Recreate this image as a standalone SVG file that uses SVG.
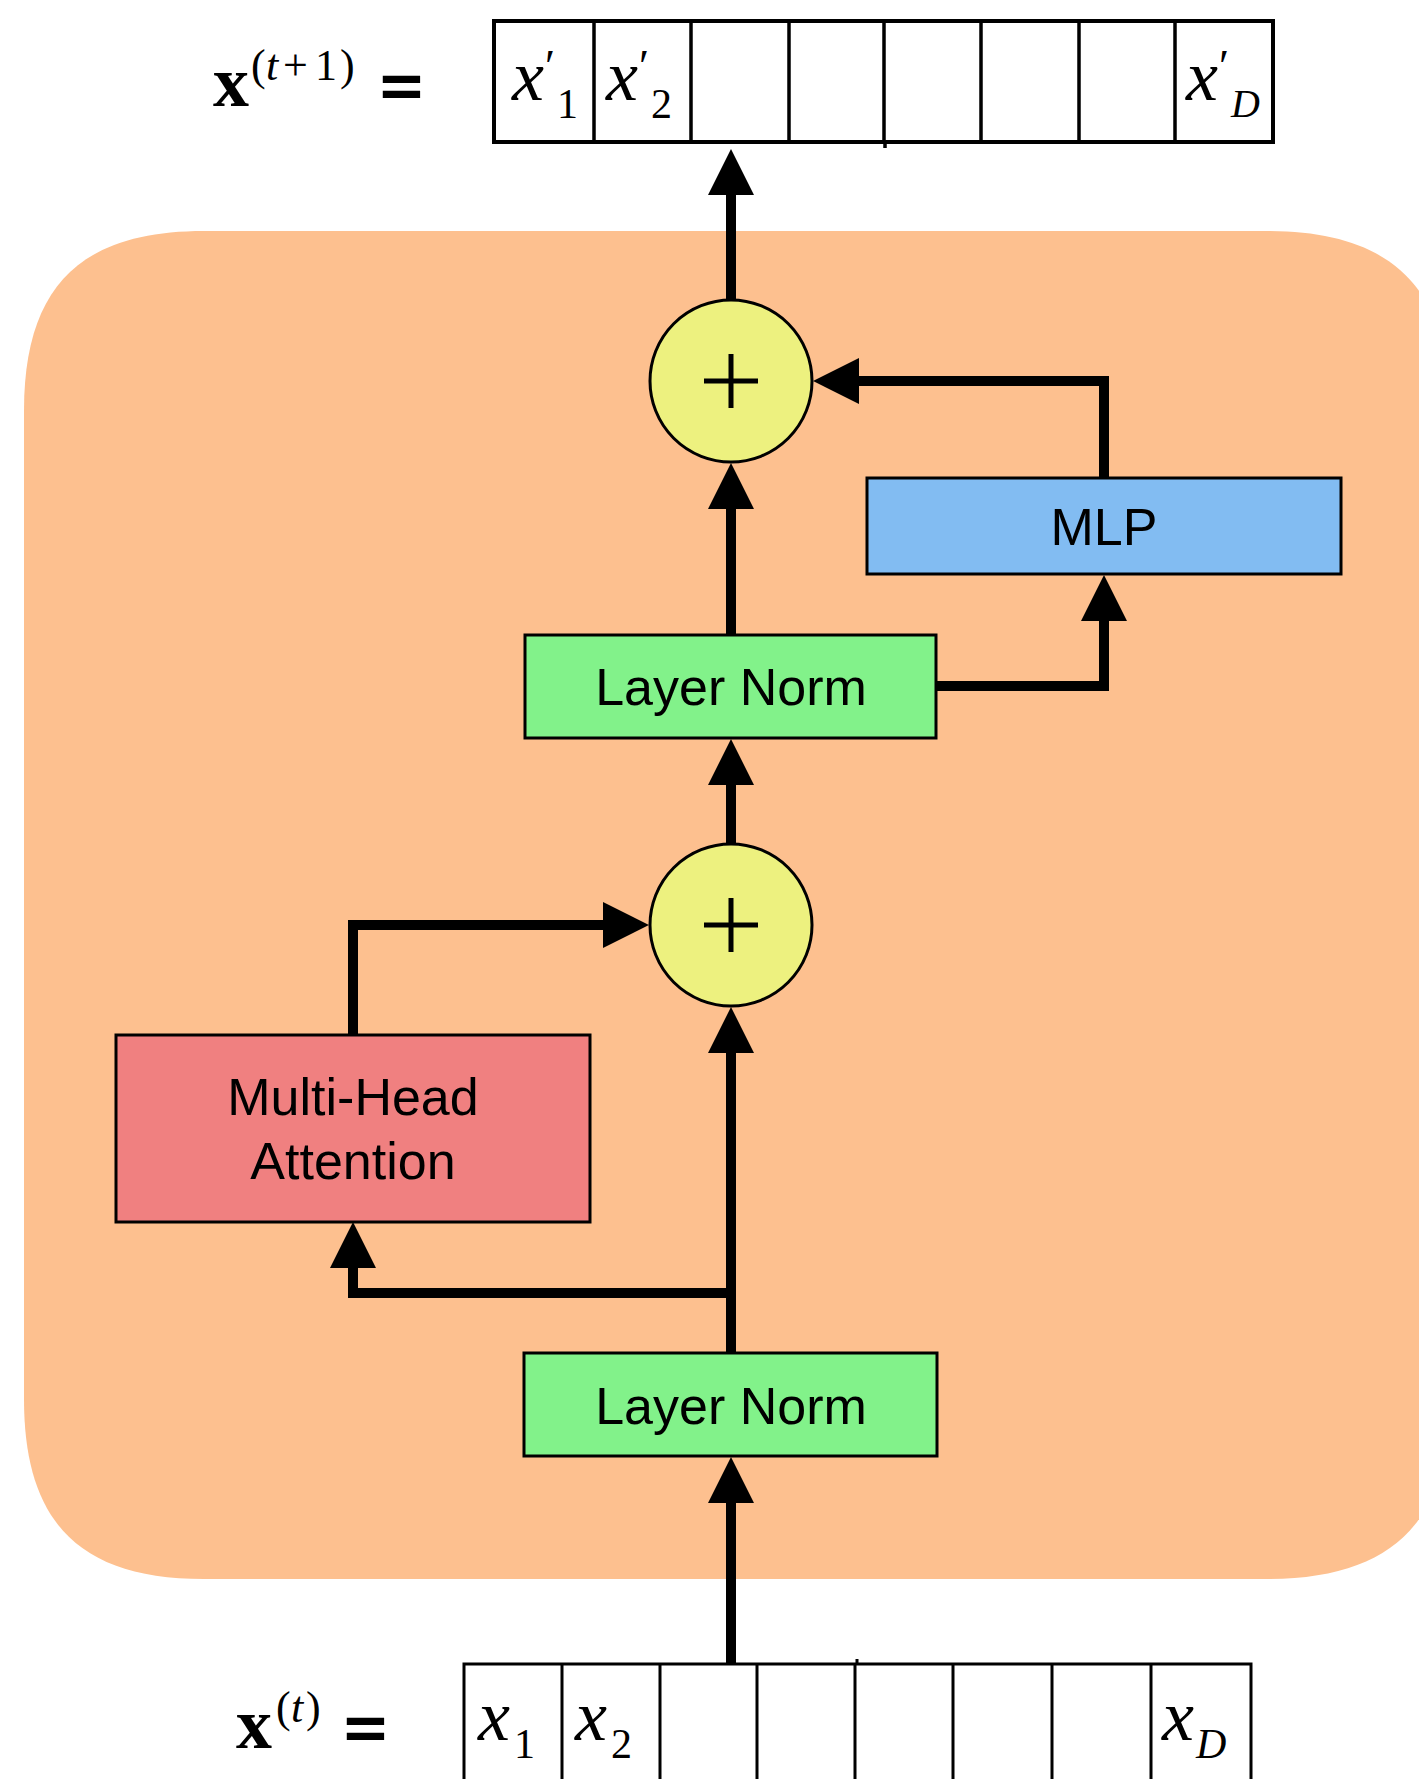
<svg xmlns="http://www.w3.org/2000/svg" width="1419" height="1779" viewBox="0 0 1419 1779">
  <style>
    .box { stroke: #000; stroke-width: 3; }
    .lbl { font-family: "Liberation Sans", Arial, sans-serif; font-size: 52px; fill: #000; text-anchor: middle; }
    .conn { fill: none; stroke: #000; stroke-width: 10; stroke-linejoin: miter; stroke-linecap: butt; }
    .cell { fill: none; stroke: #000; }
    .m { font-family: "Liberation Serif", "Times New Roman", serif; font-style: normal; fill: #000; }
    .mi { font-family: "Liberation Serif", "Times New Roman", serif; font-style: italic; fill: #000; }
    .eq { font-family: "Liberation Serif", "Times New Roman", serif; font-weight: bold; fill: #000; stroke: #000; stroke-width: 2; }
  </style>
  <defs>
    <marker id="ah" markerUnits="userSpaceOnUse" markerWidth="46" markerHeight="46" viewBox="0 0 44 44" refX="1" refY="22" orient="auto">
      <path d="M0,0 L44,22 L0,44 z" fill="#000"/>
    </marker>
  </defs>
  <rect width="1419" height="1779" fill="#fff"/>

  <g id="block">
    <path d="M204,231 H1267 C1391,231 1450,287 1450,411 V1399 C1450,1523 1391,1579 1267,1579 H204 C80,1579 24,1523 24,1399 V411 C24,287 80,231 204,231 Z" fill="#FDC08F"/>
  </g>

  <g id="output-vector">
    <text class="m" x="213" y="106" font-size="72" font-weight="bold">x<tspan font-weight="normal" font-size="44" x="251" y="80">(</tspan><tspan class="mi" font-weight="normal" font-size="44" x="266" y="80">t</tspan><tspan font-weight="normal" font-size="44" x="283" y="80">+</tspan><tspan font-weight="normal" font-size="44" x="315" y="80">1</tspan><tspan font-weight="normal" font-size="44" x="340" y="80">)</tspan></text>
    <text class="eq" x="380" y="112" font-size="76">=</text>
    <rect class="cell" x="494" y="21" width="779" height="121" stroke-width="4"/>
    <path class="cell" stroke-width="3.5" d="M594,21V142 M691,21V142 M789,21V142 M884,21V142 M981,21V142 M1079,21V142 M1175,21V142 M885,142V148"/>
    <text class="mi" x="512" y="100" font-size="72">x<tspan class="m" x="545" y="82" font-size="46">′</tspan><tspan class="m" x="557" y="118" font-size="42">1</tspan></text>
    <text class="mi" x="606" y="100" font-size="72">x<tspan class="m" x="639" y="82" font-size="46">′</tspan><tspan class="m" x="651" y="118" font-size="42">2</tspan></text>
    <text class="mi" x="1186" y="100" font-size="72">x<tspan class="m" x="1219" y="82" font-size="46">′</tspan><tspan class="mi" x="1231" y="117" font-size="40">D</tspan></text>
  </g>

  <g id="input-vector">
    <text class="m" x="236" y="1748" font-size="72" font-weight="bold">x<tspan font-weight="normal" font-size="44" x="276" y="1722">(</tspan><tspan class="mi" font-weight="normal" font-size="44" x="291" y="1722">t</tspan><tspan font-weight="normal" font-size="44" x="306" y="1722">)</tspan></text>
    <text class="eq" x="344" y="1754" font-size="76">=</text>
    <path class="cell" stroke-width="3" d="M464,1800V1664H1251V1800 M562,1664V1779 M660,1664V1779 M757,1664V1779 M855,1664V1779 M953,1664V1779 M1052,1664V1779 M1151,1664V1779 M857,1659V1664"/>
    <text class="mi" x="478" y="1740" font-size="72">x<tspan class="m" x="514" y="1758" font-size="42">1</tspan></text>
    <text class="mi" x="575" y="1740" font-size="72">x<tspan class="m" x="611" y="1758" font-size="42">2</tspan></text>
    <text class="mi" x="1162" y="1740" font-size="72">x<tspan class="mi" x="1196" y="1758" font-size="42">D</tspan></text>
  </g>

  <g id="connectors">
    <path class="conn" d="M731,1664 V1502" marker-end="url(#ah)"/>
    <path class="conn" d="M731,1353 V1052" marker-end="url(#ah)"/>
    <path class="conn" d="M731,1293 H353 V1267" marker-end="url(#ah)"/>
    <path class="conn" d="M353,1035 V925 H604" marker-end="url(#ah)"/>
    <path class="conn" d="M731,844 V784" marker-end="url(#ah)"/>
    <path class="conn" d="M731,635 V508" marker-end="url(#ah)"/>
    <path class="conn" d="M936,686 H1104 V620" marker-end="url(#ah)"/>
    <path class="conn" d="M1104,478 V381 H858" marker-end="url(#ah)"/>
    <path class="conn" d="M731,300 V194" marker-end="url(#ah)"/>
  </g>

  <g id="layernorm-bottom">
    <rect class="box" x="524" y="1353" width="413" height="103" fill="#82F28A"/>
    <text class="lbl" x="731" y="1424">Layer Norm</text>
  </g>

  <g id="attention">
    <rect class="box" x="116" y="1035" width="474" height="187" fill="#F08080"/>
    <text class="lbl" x="353" y="1115">Multi-Head</text>
    <text class="lbl" x="353" y="1179">Attention</text>
  </g>

  <g id="add-bottom">
    <circle class="box" cx="731" cy="925" r="81" fill="#EDF17F" stroke-width="2.5"/>
    <path d="M731,898 V952 M704,925 H758" stroke="#000" stroke-width="5"/>
  </g>

  <g id="layernorm-top">
    <rect class="box" x="525" y="635" width="411" height="103" fill="#82F28A"/>
    <text class="lbl" x="731" y="705">Layer Norm</text>
  </g>

  <g id="mlp">
    <rect class="box" x="867" y="478" width="474" height="96" fill="#82BCF2"/>
    <text class="lbl" x="1104" y="545">MLP</text>
  </g>

  <g id="add-top">
    <circle class="box" cx="731" cy="381" r="81" fill="#EDF17F" stroke-width="2.5"/>
    <path d="M731,354 V408 M704,381 H758" stroke="#000" stroke-width="5"/>
  </g>
</svg>
